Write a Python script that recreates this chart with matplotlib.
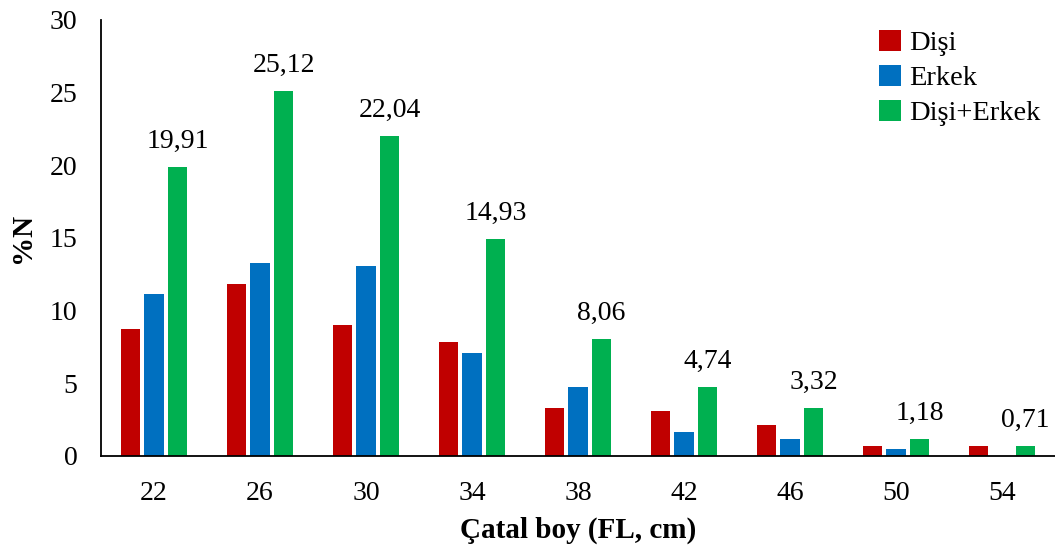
import matplotlib
matplotlib.use("Agg")
import matplotlib.pyplot as plt
import numpy as np

plt.rcParams["font.family"] = ["Liberation Serif", "DejaVu Serif"]

# fork length classes (cm) and percentage by number
lengths = ["22", "26", "30", "34", "38", "42", "46", "50", "54"]
disi = [8.75, 11.85, 9.0, 7.84, 3.32, 3.08, 2.13, 0.71, 0.71]
erkek = [11.14, 13.27, 13.07, 7.11, 4.74, 1.66, 1.18, 0.47, 0.0]
toplam = [19.91, 25.12, 22.04, 14.93, 8.06, 4.74, 3.32, 1.18, 0.71]

fig = plt.figure(figsize=(10.55, 5.52), dpi=100)
ax = fig.add_axes([0.0957, 0.174, 0.9043, 0.79])

x = np.arange(len(lengths))
w = 0.18
step = 0.222
ax.bar(x - step, disi, w, color="#c00000", label="Dişi")
ax.bar(x, erkek, w, color="#0070c0", label="Erkek")
bars = ax.bar(x + step, toplam, w, color="#00b050", label="Dişi+Erkek")

for b, v in zip(bars, toplam):
    ax.text(b.get_x() + b.get_width() / 2, v + 0.9, f"{v:.2f}".replace(".", ","),
            ha="center", va="bottom", fontsize=20)

ax.set_xlim(-0.5, len(lengths) - 0.5)
ax.set_ylim(0, 30)
ax.set_yticks(range(0, 31, 5))
ax.set_xticks(x)
ax.set_xticklabels(lengths)
ax.tick_params(axis="both", length=0, labelsize=20)
ax.tick_params(axis="y", pad=17)
ax.tick_params(axis="x", pad=18)

for side in ("top", "right"):
    ax.spines[side].set_visible(False)
ax.spines["left"].set_linewidth(1.3)
ax.spines["bottom"].set_linewidth(1.3)

ax.set_xlabel("Çatal boy (FL, cm)", fontsize=21, fontweight="bold", labelpad=8)
ax.set_ylabel("%N", fontsize=21, fontweight="bold", labelpad=10)

ax.legend(loc="upper left", bbox_to_anchor=(0.81, 0.99), frameon=False,
          fontsize=20.5, handlelength=0.75, handleheight=0.75, handletextpad=0.3,
          labelspacing=0.3, borderaxespad=0.0, borderpad=0.2)

fig.savefig("out.png", dpi=100)
